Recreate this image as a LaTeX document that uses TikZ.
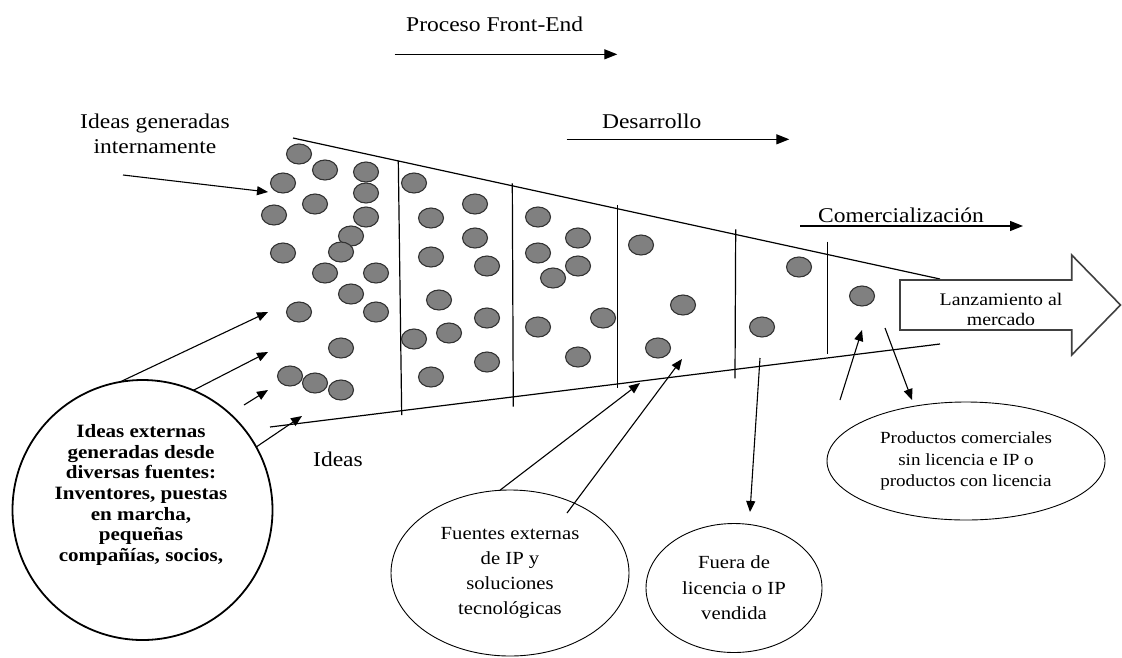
\documentclass[tikz,border=0pt]{standalone}
\usepackage{fontspec}
\setmainfont{Liberation Serif}[FakeStretch=1.12]
\usetikzlibrary{arrows.meta,shapes.geometric}

\begin{document}
\begin{tikzpicture}[x=1pt,y=-1pt,
  idea/.style={ellipse, draw=black!80, line width=1.1pt, fill=black!50,
    minimum width=25pt, minimum height=20pt, inner sep=0pt, outer sep=0pt},
  funnel/.style={line width=1.2pt},
  arr/.style={line width=1.1pt, -{Triangle[length=11pt,width=9pt]}},
  phase/.style={line width=1.3pt, -{Triangle[length=13pt,width=10pt]}},
  lbl/.style={inner sep=0pt, font=\fontsize{21}{25}\selectfont},
  bubble/.style={ellipse, draw, line width=0.9pt, inner sep=0pt, outer sep=0pt, align=center},
]
\useasboundingbox (0,0) rectangle (1122,657);

% phase labels with their arrows
\node[lbl, anchor=base] (front) at (494.7,31.7) {Proceso Front-End};
\coordinate (f0) at (394.7,54.3); \coordinate (f1) at (617.3,54.3);
\draw[phase] (f0) -- (f1);

\node[lbl, anchor=base] (dev) at (651.7,128.3) {Desarrollo};
\coordinate (d0) at (566.7,139.3); \coordinate (d1) at (789.3,139.3);
\draw[phase] (d0) -- (d1);

\node[lbl, anchor=base] (comm) at (901,222) {Comercialización};
\coordinate (c0) at (800,226); \coordinate (c1) at (1023,226);
\draw[phase] (c0) -- (c1);

% funnel outline and stage dividers
\coordinate (tl) at (293,138); \coordinate (tr) at (940,279);
\coordinate (bl) at (270,427); \coordinate (br) at (940,344);
\draw[funnel] (tl) -- (tr);
\draw[funnel] (bl) -- (br);
\draw[funnel] (398.3,160.7) -- (401.7,415);
\draw[funnel] (512.3,183.3) -- (513.3,406.7);
\draw[funnel] (617.7,205) -- (617.7,388.3);
\draw[funnel] (735.7,229.3) -- (735,378.3);
\draw[funnel] (827.7,241.7) -- (827.7,354);

% ideas moving through the funnel
\foreach \x/\y [count=\i] in {
  299/154, 325/170, 366/172, 283/183, 366/193, 315/204, 274/215, 366/217,
  351/236, 341/252, 283/253, 325/273, 376/273, 351/294, 299/312, 376/312,
  341/348, 290/376, 315/383, 341/390,
  414/183, 431/218, 475/204, 475/238, 431/257, 487/266, 439/300, 487/318,
  414/339, 449/333, 487/362, 431/377,
  538/217, 578/238, 538/253, 578/266, 553/278, 603/318, 538/327, 578/357,
  641/245, 683/305, 658/348,
  799/267, 762/327,
  862/296}
  \node[idea] (idea\i) at (\x,\y) {};

% launch arrow
\draw[line width=1.6pt, draw=black!75, fill=white]
  (900,280) -- (1071.7,280) -- (1071.7,255) -- (1120.5,305)
  -- (1071.7,355) -- (1071.7,330) -- (900,330) -- cycle;
\node[inner sep=0pt, align=center, font=\fontsize{17.7}{20}\selectfont] (launch)
  at (1001,309) {Lanzamiento al\\mercado};

% internal ideas
\node[lbl, align=center] (intl) at (155,134) {Ideas generadas\\internamente};
\coordinate (i0) at (123,175); \coordinate (i1) at (268,192);
\draw[arr] (i0) -- (i1);

\node[lbl, anchor=base] (ideas) at (338,466.7) {Ideas};

% external sources
\node[circle, draw, line width=1.8pt, minimum size=260pt, inner sep=0pt,
  outer sep=0pt, fill=white] (ext) at (142.5,510) {};
\node[inner sep=0pt, align=center, font=\fontsize{18.8}{20.55}\selectfont\bfseries]
  (extl) at (141,495) {Ideas externas\\generadas desde\\diversas fuentes:\\Inventores, puestas\\en marcha,\\pequeñas\\compañías, socios,};

\coordinate (e1) at (268,312); \coordinate (e2) at (268,352);
\coordinate (e3s) at (244,405); \coordinate (e3) at (268,390);
\coordinate (e4) at (302,416);
\draw[arr] (ext.100) -- (e1);
\draw[arr] (ext.67) -- (e2);
\draw[arr] (e3s) -- (e3);
\draw[arr] (ext.29) -- (e4);

% outcome bubbles
\node[bubble, minimum width=238pt, minimum height=166pt,
  font=\fontsize{18.5}{25}\selectfont] (src) at (510,573)
  {Fuentes externas\\de IP y\\soluciones\\tecnológicas};
\node[bubble, minimum width=176pt, minimum height=129pt,
  font=\fontsize{18.5}{25.5}\selectfont] (sold) at (734,588)
  {Fuera de\\licencia o IP\\vendida};
\node[bubble, minimum width=278pt, minimum height=118pt,
  font=\fontsize{17}{21.7}\selectfont] (prod) at (966,461)
  {Productos comerciales\\sin licencia e IP o\\productos con licencia};

\coordinate (s1) at (640,383);
\coordinate (s2s) at (567,513); \coordinate (s2) at (682,359);
\draw[arr] (src.97) -- (s1);
\draw[arr] (s2s) -- (s2);

\coordinate (o0) at (760,358); \coordinate (o1) at (750,512);
\draw[arr] (o0) -- (o1);

\coordinate (p0) at (840,400); \coordinate (p1) at (862,330);
\draw[arr] (p0) -- (p1);
\coordinate (q0) at (885,328); \coordinate (q1) at (912,400);
\draw[arr] (q0) -- (q1);
\end{tikzpicture}
\end{document}
